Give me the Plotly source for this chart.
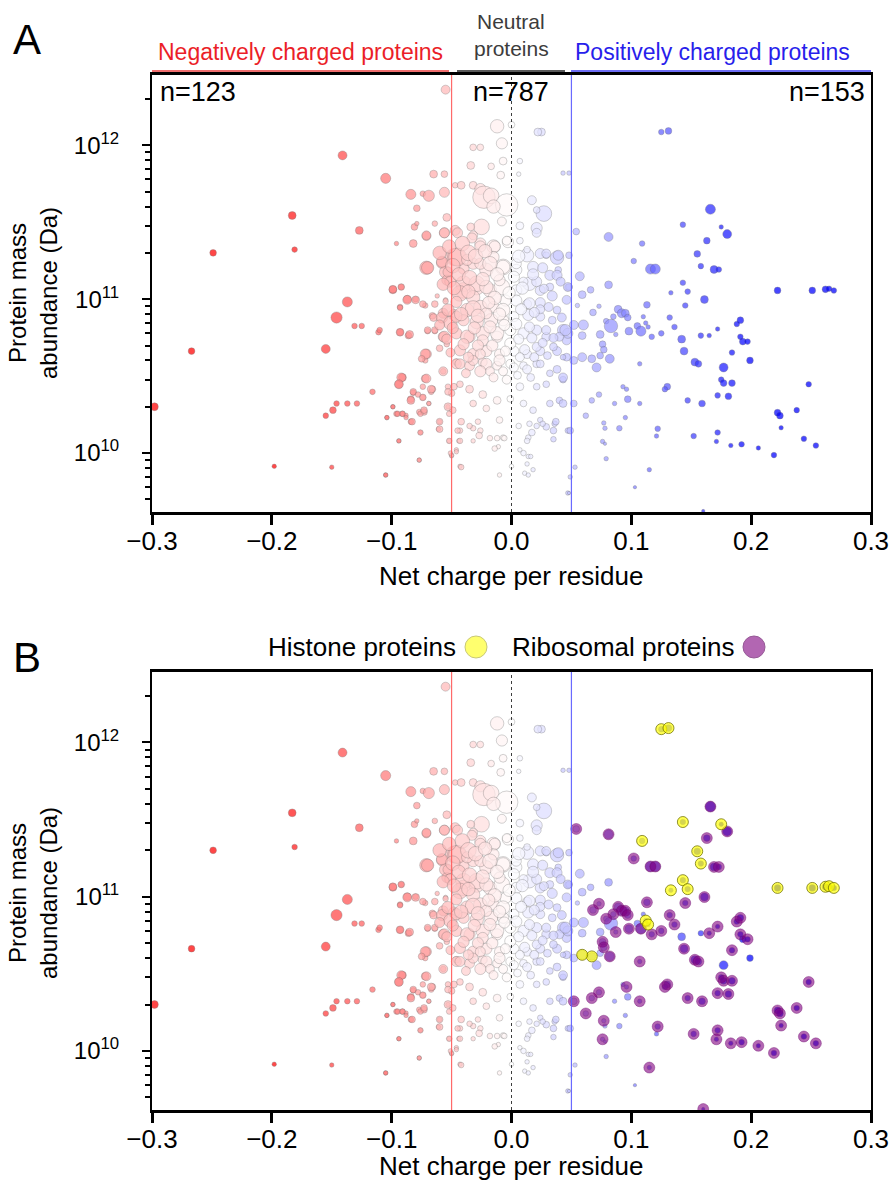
import plotly.graph_objects as go

W, H = 891, 1195

# ---- data: (net charge per residue, protein mass abundance in Da, bubble size) ----
negative_side = [
    (-0.298, 2.0e10, 7), (-0.267, 4.6e10, 6), (-0.249, 2.0e11, 6), (-0.198, 8.2e9, 4),
    (-0.183, 3.5e11, 7), (-0.181, 2.1e11, 5), (-0.155, 4.75e10, 8), (-0.150, 8.1e9, 4),
    (-0.155, 1.75e10, 5), (-0.149, 1.9e10, 6), (-0.146, 2.1e10, 5), (-0.146, 7.6e10, 10),
    (-0.141, 8.6e11, 8), (-0.137, 9.6e10, 9), (-0.137, 2.1e10, 5), (-0.129, 2.1e10, 5),
    (-0.131, 6.7e10, 5), (-0.125, 6.7e10, 5), (-0.127, 2.8e11, 7), (-0.116, 2.5e10, 5),
    (-0.111, 6.1e10, 5), (-0.105, 6.1e11, 9), (-0.105, 7.2e9, 4), (-0.104, 1.7e10, 4),
    (-0.099, 2.0e10, 4), (-0.096, 2.3e11, 4), (-0.099, 1.15e11, 7), (-0.096, 1.8e10, 5),
    (-0.091, 1.8e10, 5), (-0.094, 1.2e10, 4), (-0.094, 2.8e10, 7), (-0.091, 3.1e10, 7),
    (-0.093, 8.9e10, 5), (-0.093, 6.1e10, 6), (-0.092, 1.2e11, 5), (-0.087, 1.0e11, 7),
    (-0.086, 5.8e10, 6), (-0.088, 1.76e10, 4), (-0.084, 4.8e11, 9), (-0.082, 2.3e11, 7),
    (-0.081, 2.95e11, 6), (-0.084, 2.24e10, 6), (-0.084, 1.6e10, 5), (-0.080, 1.0e11, 5),
    (-0.079, 3.9e11, 6), (-0.079, 3.1e11, 4), (-0.082, 2.47e10, 5), (-0.077, 1.85e10, 5),
    (-0.077, 9.0e9, 4), (-0.076, 1.36e10, 4), (-0.074, 4.85e11, 5), (-0.073, 1.85e10, 6),
    (-0.074, 2.3e10, 5), (-0.072, 9.1e10, 5), (-0.072, 3.05e10, 7), (-0.071, 4.4e10, 9),
    (-0.072, 4.0e10, 5), (-0.071, 1.6e11, 12), (-0.071, 2.57e11, 8), (-0.070, 6.2e10, 5),
    (-0.069, 2.1e10, 4), (-0.069, 4.7e11, 10), (-0.067, 2.5e10, 5), (-0.066, 2.6e10, 6),
    (-0.066, 7.8e10, 6), (-0.065, 6.5e11, 7), (-0.064, 3.1e11, 5), (-0.064, 6.2e10, 5),
    (-0.062, 1.05e11, 4), (-0.061, 1.43e10, 4), (-0.060, 1.6e10, 4), (-0.058, 1.72e11, 10),
    (-0.057, 8.1e10, 9), (-0.057, 5.7e10, 9), (-0.056, 6.5e11, 6), (-0.056, 4.95e11, 9),
    (-0.056, 2.7e11, 9), (-0.057, 3.4e10, 5), (-0.055, 2.3e12, 8), (-0.055, 9.9e10, 4),
    (-0.054, 3.4e11, 7), (-0.054, 5.1e10, 5), (-0.053, 2.7e10, 5), (-0.053, 2.0e10, 4),
    (-0.050, 9.6e9, 4), (-0.052, 1.2e10, 4), (-0.055, 1.5e11, 11), (-0.054, 1.33e11, 9),
    (-0.049, 6.5e10, 7), (-0.047, 2.8e11, 9), (-0.047, 5.5e11, 5), (-0.048, 7.9e10, 10),
    (-0.046, 3.9e10, 6), (-0.048, 2.7e10, 6), (-0.050, 2.45e10, 6), (-0.046, 1.05e10, 4),
    (-0.048, 1.88e11, 15),
    (-0.092, 3.1e10, 8), (-0.094, 2.8e10, 8), (-0.071, 3.05e10, 8), (-0.067, 2.6e10, 7),
    (-0.074, 2.7e10, 5), (-0.082, 2.5e10, 6), (-0.078, 2.4e10, 5), (-0.074, 2.3e10, 6),
    (-0.084, 2.2e10, 7), (-0.099, 2.0e10, 4), (-0.095, 1.8e10, 5), (-0.091, 1.8e10, 5),
    (-0.088, 1.7e10, 4), (-0.076, 1.8e10, 5), (-0.073, 1.9e10, 6), (-0.069, 2.1e10, 4),
    (-0.104, 1.7e10, 4), (-0.083, 1.6e10, 6), (-0.060, 1.6e10, 6), (-0.060, 1.43e10, 6),
    (-0.076, 1.36e10, 5), (-0.094, 1.2e10, 4), (-0.077, 9.0e9, 4), (-0.105, 7.2e9, 4),
    (-0.099, 1.16e11, 7), (-0.092, 1.2e11, 6), (-0.087, 9.9e10, 8), (-0.080, 9.9e10, 7),
    (-0.074, 9.3e10, 6), (-0.064, 9.3e10, 6), (-0.093, 8.8e10, 5), (-0.065, 7.6e10, 7),
    (-0.110, 6.3e10, 5), (-0.093, 6.1e10, 7), (-0.085, 5.9e10, 7), (-0.070, 6.3e10, 6),
    (-0.064, 6.3e10, 6), (-0.072, 4.4e10, 9), (-0.075, 4.1e10, 6), (-0.060, 4.8e10, 6),
    (-0.070, 1.6e11, 11), (-0.071, 2.6e11, 8),
]

neutral_upper = [
    (-0.012, 1.33e12, 12), (0.000, 1.36e12, 6), (0.025, 1.22e12, 7), (0.022, 1.22e12, 7),
    (-0.032, 9.7e11, 6), (-0.026, 9.7e11, 6), (-0.008, 1.03e12, 10), (0.007, 7.9e11, 5),
    (-0.007, 7.9e11, 7), (-0.017, 7.3e11, 6), (-0.034, 7.4e11, 7), (-0.042, 5.5e11, 7),
    (-0.032, 5.5e11, 7), (-0.009, 6.4e11, 7), (0.006, 6.5e11, 4), (0.043, 6.6e11, 4),
    (0.048, 6.6e11, 4), (-0.026, 5.2e11, 10), (-0.023, 4.6e11, 20), (-0.017, 4.7e11, 14),
    (-0.004, 4.1e11, 20), (-0.015, 4.0e11, 12), (0.017, 4.4e11, 8), (0.027, 3.6e11, 14),
    (0.021, 2.9e11, 10), (0.021, 3.8e11, 6), (0.007, 3.0e11, 7), (-0.008, 3.2e11, 8),
    (-0.025, 2.95e11, 14), (-0.032, 2.6e11, 8), (-0.034, 2.95e11, 7), (-0.015, 2.2e11, 12),
    (-0.026, 2.3e11, 10), (-0.003, 2.35e11, 10), (0.013, 1.93e11, 12), (0.024, 1.98e11, 9),
    (0.029, 1.93e11, 6), (0.038, 1.86e11, 12), (0.039, 1.55e11, 6), (0.047, 1.19e11, 6),
    (-0.046, 1.88e11, 16), (-0.040, 1.58e11, 10), (-0.007, 1.62e11, 14), (-0.021, 1.55e11, 12),
    (-0.032, 1.7e11, 10), (0.004, 1.55e11, 10), (0.015, 1.26e11, 12), (0.024, 1.14e11, 9),
    (0.032, 1.2e11, 7), (0.046, 9.9e10, 8), (-0.040, 1.14e11, 14), (-0.029, 1.2e11, 14),
    (-0.018, 1.14e11, 12), (-0.008, 1.2e11, 14), (0.004, 1.14e11, 10),
]

neutral_band = [
    (-0.056, 2.7e11, 9), (-0.045, 2.7e11, 9), (-0.033, 2.5e11, 9), (-0.026, 2.2e11, 10),
    (-0.014, 2.2e11, 10), (-0.004, 2.4e11, 8), (0.007, 2.4e11, 6), (0.013, 2.1e11, 6),
    (0.021, 2.7e11, 8), (0.029, 1.98e11, 8), (0.039, 1.93e11, 9), (0.048, 1.93e11, 6),
    (-0.045, 1.88e11, 16), (-0.058, 1.75e11, 10), (-0.053, 1.5e11, 9), (-0.037, 1.8e11, 10),
    (-0.026, 1.7e11, 10), (-0.015, 1.88e11, 10), (-0.007, 1.62e11, 12), (0.004, 1.7e11, 9),
    (0.018, 1.62e11, 10), (0.032, 1.43e11, 9), (0.038, 1.43e11, 9), (-0.051, 1.3e11, 10),
    (-0.040, 1.26e11, 14), (-0.029, 1.26e11, 14), (-0.043, 1.09e11, 14), (-0.032, 1.03e11, 12),
    (-0.021, 1.2e11, 12), (-0.010, 1.33e11, 10), (0.002, 1.4e11, 10), (0.010, 1.3e11, 8),
    (0.021, 1.3e11, 9), (0.027, 1.17e11, 8), (0.048, 1.2e11, 6), (-0.055, 9.7e10, 5),
    (-0.046, 9.6e10, 10), (-0.037, 8.5e10, 12), (-0.026, 8.9e10, 12), (-0.015, 8.9e10, 10),
    (-0.005, 9.8e10, 10), (0.004, 9.8e10, 10), (0.013, 9.3e10, 8), (0.024, 9.5e10, 9),
    (0.038, 8.5e10, 7), (-0.058, 7.6e10, 10), (-0.051, 7.0e10, 12), (-0.040, 7.3e10, 10),
    (-0.029, 7.1e10, 12), (-0.017, 7.3e10, 12), (-0.007, 7.3e10, 10), (0.002, 7.7e10, 9),
    (0.014, 7.9e10, 10), (0.024, 7.7e10, 8), (0.034, 7.3e10, 7), (-0.056, 5.7e10, 10),
    (-0.046, 6.0e10, 10), (-0.035, 5.7e10, 10), (-0.024, 6.0e10, 12), (-0.012, 5.7e10, 10),
    (-0.001, 6.3e10, 10), (0.010, 6.0e10, 10), (0.021, 6.3e10, 9), (0.029, 5.7e10, 8),
    (0.043, 6.3e10, 10), (0.046, 5.4e10, 8), (-0.043, 4.65e10, 10), (-0.032, 4.4e10, 10),
    (-0.021, 4.6e10, 10), (-0.010, 4.4e10, 9), (0.002, 4.6e10, 9), (0.013, 4.4e10, 8),
    (0.024, 4.6e10, 8), (0.038, 4.6e10, 8), (0.046, 4.2e10, 7), (-0.046, 3.8e10, 9),
    (-0.035, 3.7e10, 9), (-0.024, 3.9e10, 8), (-0.012, 3.7e10, 8), (-0.001, 3.8e10, 8),
    (0.010, 3.7e10, 7), (0.021, 3.8e10, 7),
    (0.015, 9.4e10, 10), (0.024, 8.6e10, 8), (-0.032, 8.7e10, 14), (-0.046, 7.7e10, 10),
    (-0.021, 8.1e10, 10), (-0.007, 8.5e10, 12), (0.004, 6.9e10, 10), (0.015, 6.6e10, 9),
    (0.029, 6.3e10, 8), (0.040, 5.7e10, 8), (0.047, 6.0e10, 9), (-0.037, 5.7e10, 12),
    (-0.024, 5.4e10, 10), (-0.012, 6.0e10, 12), (-0.001, 5.15e10, 10), (0.011, 4.7e10, 9),
    (0.021, 4.9e10, 8), (0.035, 4.9e10, 7), (-0.051, 4.5e10, 8), (-0.043, 3.8e10, 9),
    (-0.032, 4.0e10, 9), (-0.021, 3.8e10, 10), (-0.010, 4.0e10, 10), (0.002, 3.6e10, 8),
    (0.013, 3.5e10, 8), (0.024, 3.8e10, 7), (0.038, 3.5e10, 7),
]

neutral_dense = [
    (-0.060, 2.0e11, 12), (-0.052, 2.2e11, 12), (-0.041, 2.3e11, 13), (-0.036, 2.0e11, 14),
    (-0.030, 1.9e11, 13), (-0.022, 2.05e11, 12), (-0.018, 1.7e11, 13), (-0.012, 1.45e11, 12),
    (-0.049, 1.65e11, 13), (-0.044, 1.45e11, 12), (-0.035, 1.38e11, 13), (-0.024, 1.35e11, 12),
    (-0.057, 1.25e11, 11), (-0.048, 1.18e11, 12), (-0.036, 1.12e11, 12), (-0.014, 1.02e11, 12),
    (-0.002, 1.1e11, 11), (0.009, 1.18e11, 11), (0.006, 1.9e11, 11), (0.018, 1.45e11, 10),
    (0.026, 1.6e11, 9), (0.034, 1.05e11, 9), (0.041, 1.3e11, 8), (-0.053, 8.5e10, 11),
    (-0.042, 8.0e10, 12), (-0.028, 7.8e10, 12), (-0.019, 9.5e10, 11), (-0.010, 8.0e10, 11),
    (0.008, 8.6e10, 10), (0.019, 8.2e10, 9), (0.031, 8.9e10, 8), (0.042, 7.6e10, 8),
    (-0.060, 6.8e10, 9), (-0.049, 6.5e10, 10), (-0.031, 6.5e10, 11), (-0.018, 6.6e10, 11),
    (-0.006, 6.8e10, 10), (0.006, 5.5e10, 9), (0.017, 5.6e10, 9), (0.026, 5.2e10, 8),
    (0.035, 5.6e10, 8), (-0.040, 5.1e10, 10), (-0.028, 5.0e10, 10), (-0.016, 5.0e10, 10),
    (-0.005, 4.6e10, 9), (0.007, 4.2e10, 8), (0.019, 4.2e10, 8), (0.030, 4.3e10, 7),
    (-0.054, 5.5e10, 9), (-0.036, 4.2e10, 9), (-0.026, 4.4e10, 9), (-0.038, 3.3e10, 8),
    (-0.018, 3.4e10, 8), (-0.007, 3.4e10, 8), (0.005, 3.2e10, 7), (0.016, 3.1e10, 7),
    (0.032, 3.3e10, 6),
]

neutral_lower = [
    (0.043, 3.0e10, 6), (-0.026, 3.4e10, 10), (-0.015, 3.1e10, 8), (-0.004, 3.0e10, 8),
    (0.007, 2.7e10, 7), (0.021, 2.7e10, 6), (0.029, 2.8e10, 6), (-0.043, 2.8e10, 6),
    (-0.035, 2.6e10, 7), (-0.024, 2.4e10, 7), (-0.012, 2.2e10, 7), (-0.001, 2.25e10, 6),
    (0.010, 2.1e10, 6), (0.018, 1.9e10, 6), (0.032, 2.1e10, 6), (0.040, 2.2e10, 6),
    (-0.032, 2.1e10, 6), (-0.021, 1.95e10, 6), (-0.010, 1.64e10, 6), (-0.049, 1.9e10, 6),
    (-0.043, 1.4e10, 5), (-0.032, 1.45e10, 5), (-0.026, 1.4e10, 5), (-0.012, 1.25e10, 5),
    (-0.007, 1.26e10, 5), (0.006, 1.5e10, 5), (0.014, 1.26e10, 5), (0.015, 1.55e10, 5),
    (0.024, 1.64e10, 5), (0.036, 1.55e10, 5), (0.047, 1.4e10, 5), (-0.032, 1.2e10, 4),
    (-0.044, 1.2e10, 4), (-0.050, 9.7e9, 4), (-0.043, 8.2e9, 4), (-0.011, 1.1e10, 4),
    (0.007, 1.05e10, 4), (0.014, 9.5e9, 4), (0.011, 7.4e9, 4), (0.014, 7.2e9, 4),
    (-0.010, 7.2e9, 4), (0.000, 8.2e9, 4), (0.047, 5.5e9, 4),
    (-0.057, 3.4e10, 8), (-0.053, 2.5e10, 6), (-0.053, 2.0e10, 7), (-0.052, 1.8e10, 5),
    (-0.052, 1.2e10, 5), (-0.051, 1.0e10, 4), (-0.046, 1.02e10, 4), (-0.042, 8.1e9, 5),
    (-0.043, 1.2e10, 5), (-0.045, 1.4e10, 5), (-0.042, 1.6e10, 6), (-0.035, 1.5e10, 5),
    (-0.027, 1.3e10, 6), (-0.028, 1.6e10, 5), (-0.018, 1.25e10, 5), (-0.006, 1.25e10, 5),
    (-0.014, 1.07e10, 5), (0.010, 1.0e10, 5), (0.016, 9.5e9, 4), (0.013, 8.5e9, 4),
    (0.018, 7.8e9, 4), (0.017, 1.36e10, 6), (0.013, 1.2e10, 5), (0.021, 1.5e10, 5),
    (0.029, 1.48e10, 6), (0.026, 1.55e10, 5), (0.035, 1.4e10, 6), (0.037, 1.6e10, 6),
    (0.043, 2.1e10, 7), (0.035, 1.23e10, 5), (0.049, 1.4e10, 6),
]

# positive side: (charge, abundance, size, group)  group: "R" ribosomal, "H" histone, "" other
positive_side = [
    (0.125, 1.22e12, 5, "H"), (0.131, 1.24e12, 6, "H"), (0.166, 3.84e11, 9, "R"),
    (0.143, 3.05e11, 5, "H"), (0.175, 2.95e11, 4, "H"), (0.180, 2.65e11, 8, "R"),
    (0.163, 2.4e11, 6, "R"), (0.054, 2.75e11, 6, "R"), (0.081, 2.54e11, 8, "R"),
    (0.109, 2.3e11, 5, "H"), (0.155, 1.97e11, 6, "H"), (0.102, 1.77e11, 5, "R"),
    (0.158, 1.64e11, 5, "H"), (0.116, 1.57e11, 9, "R"), (0.120, 1.57e11, 9, "R"),
    (0.169, 1.56e11, 7, "R"), (0.173, 1.56e11, 5, "R"), (0.057, 1.41e11, 8, ""),
    (0.047, 1.2e11, 8, ""), (0.081, 1.24e11, 7, ""), (0.066, 1.15e11, 6, ""),
    (0.059, 1.07e11, 7, ""), (0.143, 1.28e11, 5, "H"), (0.147, 1.12e11, 5, "H"),
    (0.133, 1.1e11, 4, "H"), (0.161, 9.95e10, 7, "R"), (0.222, 1.14e11, 6, "H"),
    (0.251, 1.14e11, 6, "H"), (0.262, 1.16e11, 6, "H"), (0.265, 1.17e11, 5, "H"),
    (0.269, 1.14e11, 5, "H"), (0.055, 9.1e10, 4, ""), (0.073, 9.0e10, 4, "R"),
    (0.068, 8.2e10, 6, "R"), (0.113, 9.2e10, 6, "R"), (0.089, 8.6e10, 7, "R"),
    (0.092, 8.1e10, 8, "R"), (0.095, 8.1e10, 7, "R"), (0.097, 7.6e10, 6, "R"),
    (0.085, 7.7e10, 5, "R"), (0.079, 7.2e10, 5, "R"), (0.083, 6.7e10, 12, ""),
    (0.060, 6.8e10, 9, ""), (0.052, 6.8e10, 8, ""), (0.045, 6.3e10, 10, ""),
    (0.059, 5.8e10, 7, ""), (0.074, 5.9e10, 7, ""), (0.098, 6.2e10, 7, "R"),
    (0.105, 6.7e10, 6, ""), (0.108, 6.2e10, 9, "R"), (0.110, 7.7e10, 4, ""),
    (0.112, 7.0e10, 4, "H"), (0.114, 6.6e10, 4, "H"), (0.117, 5.7e10, 5, "R"),
    (0.125, 6.0e10, 5, "R"), (0.132, 7.6e10, 5, "R"), (0.136, 6.6e10, 5, "R"),
    (0.145, 9.1e10, 5, "R"), (0.142, 5.5e10, 7, ""), (0.144, 4.6e10, 7, "R"),
    (0.158, 5.8e10, 5, ""), (0.165, 5.8e10, 4, "R"), (0.172, 6.4e10, 4, "R"),
    (0.188, 6.9e10, 5, "R"), (0.191, 7.3e10, 6, "R"), (0.191, 5.7e10, 5, "R"),
    (0.193, 5.3e10, 6, ""), (0.197, 5.3e10, 5, "R"), (0.184, 4.5e10, 5, "R"),
    (0.199, 4.0e10, 6, ""), (0.153, 3.9e10, 7, "R"), (0.156, 3.8e10, 6, "R"),
    (0.177, 3.6e10, 8, ""), (0.175, 3.0e10, 5, "R"), (0.177, 2.85e10, 6, "R"),
    (0.184, 2.85e10, 6, "R"), (0.172, 2.37e10, 5, "R"), (0.181, 2.34e10, 6, "R"),
    (0.248, 2.8e10, 5, "R"), (0.222, 1.83e10, 6, "R"), (0.224, 1.75e10, 6, "R"),
    (0.238, 1.9e10, 5, "R"), (0.225, 1.46e10, 4, "R"), (0.244, 1.24e10, 5, "R"),
    (0.254, 1.12e10, 5, "R"), (0.219, 9.7e9, 5, "R"), (0.206, 1.08e10, 4, "R"),
    (0.192, 1.14e10, 5, "R"), (0.183, 1.12e10, 4, "R"), (0.172, 1.36e10, 5, "R"),
    (0.171, 1.19e10, 4, "R"), (0.152, 1.29e10, 5, "R"), (0.159, 2.1e10, 6, "R"),
    (0.147, 2.2e10, 5, "R"), (0.130, 2.7e10, 6, "R"), (0.128, 2.6e10, 5, "R"),
    (0.122, 1.44e10, 5, "R"), (0.121, 1.29e10, 4, ""), (0.115, 7.8e9, 4, "R"),
    (0.103, 6.0e9, 3, ""), (0.160, 4.2e9, 3, "R"), (0.107, 3.8e10, 4, "R"),
    (0.107, 2.1e10, 4, "R"), (0.093, 2.7e10, 4, ""), (0.096, 2.6e10, 4, "R"),
    (0.097, 2.24e10, 6, ""), (0.086, 2.1e10, 4, ""), (0.095, 1.7e10, 4, ""),
    (0.090, 1.45e10, 5, ""), (0.077, 1.57e10, 4, "R"), (0.078, 1.45e10, 4, ""),
    (0.076, 1.19e10, 4, "R"), (0.078, 1.15e10, 3, ""), (0.079, 9.2e9, 4, ""),
    (0.073, 2.4e10, 5, "R"), (0.067, 2.2e10, 5, "R"), (0.062, 1.75e10, 5, "R"),
    (0.052, 2.1e10, 6, "R"), (0.053, 8.1e9, 4, ""), (0.049, 7.0e9, 4, ""),
    (0.048, 5.5e9, 3, ""), (0.071, 3.6e10, 8, ""), (0.082, 4.1e10, 8, "R"),
    (0.067, 4.1e10, 7, "H"), (0.074, 4.3e10, 6, ""), (0.059, 4.2e10, 8, "H"),
    (0.052, 4.0e10, 7, ""), (0.076, 5.1e10, 6, "R"), (0.077, 4.7e10, 6, "R"),
    (0.087, 5.9e10, 4, "R"), (0.043, 4.2e10, 5, ""), (0.043, 3.1e10, 8, ""),
]

group_counts = ["n=123", "n=787", "n=153"]
x_ticks = [-0.3, -0.2, -0.1, 0.0, 0.1, 0.2, 0.3]
y_ticks = [1e10, 1e11, 1e12]
y_ticktext = ["10<sup>10</sup>", "10<sup>11</sup>", "10<sup>12</sup>"]
y_minor = [m * 10 ** e for e in (9, 10, 11, 12) for m in range(2, 10)]

# ---- assemble ----
rows3 = negative_side + neutral_upper + neutral_band + neutral_dense + neutral_lower
charge = [r[0] for r in rows3] + [r[0] for r in positive_side]
abund = [r[1] for r in rows3] + [r[1] for r in positive_side]
SIZE_SCALE = 1.12
bsize = [r[2] * SIZE_SCALE for r in rows3] + [r[2] * SIZE_SCALE for r in positive_side]

ribo = [r for r in positive_side if r[3] == "R"]
hist = [r for r in positive_side if r[3] == "H"]

FONT = "Liberation Sans, Arial, Helvetica, sans-serif"


def px(x):
    return x / W


def py(y):
    return 1 - y / H


fig = go.Figure()
cscale = [[0, "rgb(255,0,0)"], [0.5, "rgb(255,255,255)"], [1, "rgb(0,0,255)"]]
for xa, ya in (("x", "y"), ("x2", "y2")):
    fig.add_trace(go.Scatter(
        x=charge, y=abund, mode="markers", xaxis=xa, yaxis=ya, showlegend=False, hoverinfo="skip",
        marker=dict(size=bsize, color=charge, colorscale=cscale, cmin=-0.2, cmax=0.2, showscale=False,
                    opacity=0.72, line=dict(color="rgba(80,80,80,0.6)", width=0.6))))

fig.add_trace(go.Scatter(
    x=[r[0] for r in ribo], y=[r[1] for r in ribo], mode="markers", xaxis="x2", yaxis="y2",
    showlegend=False, hoverinfo="skip",
    marker=dict(size=11, color="rgba(128,0,128,0.6)", line=dict(color="rgba(100,0,100,0.45)", width=0.8))))
fig.add_trace(go.Scatter(
    x=[r[0] for r in hist], y=[r[1] for r in hist], mode="markers", xaxis="x2", yaxis="y2",
    showlegend=False, hoverinfo="skip",
    marker=dict(size=11, color="rgba(255,255,0,0.68)", line=dict(color="rgba(110,110,0,0.75)", width=1))))

xdom = [px(152), px(871)]
ydomA = [py(512), py(75)]
ydomB = [py(1110), py(672)]

xax = dict(domain=xdom, range=[-0.3, 0.3], tickmode="array", tickvals=x_ticks,
           ticktext=[("\u2212" if v < 0 else "") + f"{abs(v):.1f}" for v in x_ticks],
           ticks="outside", ticklen=10, tickwidth=2.5, tickcolor="black", automargin=False,
           ticklabelstandoff=-6,
           showline=True, linewidth=2.5, linecolor="black", mirror=True,
           showgrid=False, zeroline=False, tickfont=dict(size=26, color="black", family=FONT))
yax = dict(type="log", range=[9.617, 12.457], tickmode="array", tickvals=y_ticks, ticktext=y_ticktext,
           ticks="outside", ticklen=8, tickwidth=2, tickcolor="black", ticklabelstandoff=18,
           automargin=False,
           minor=dict(tickmode="array", tickvals=y_minor, ticks="outside", ticklen=5,
                      tickwidth=1.5, tickcolor="black", showgrid=False),
           showline=True, linewidth=2, linecolor="black", mirror=True,
           showgrid=False, zeroline=False, tickfont=dict(size=24, color="black", family=FONT))

fig.update_layout(
    template="none",
    width=W, height=H, autosize=False,
    margin=dict(l=0, r=0, t=0, b=0, pad=0, autoexpand=False),
    paper_bgcolor="white", plot_bgcolor="white",
    font=dict(family=FONT, color="black"),
    xaxis=dict(xax, anchor="y"), yaxis=dict(yax, domain=ydomA, anchor="x"),
    xaxis2=dict(xax, anchor="y2"), yaxis2=dict(yax, domain=ydomB, anchor="x2"),
)

shapes = []
for xr, yr in (("x", "y domain"), ("x2", "y2 domain")):
    shapes.append(dict(type="line", xref=xr, yref=yr, x0=-0.05, x1=-0.05, y0=0, y1=1,
                       line=dict(color="rgba(255,90,90,0.9)", width=1.2), layer="above"))
    shapes.append(dict(type="line", xref=xr, yref=yr, x0=0.05, x1=0.05, y0=0, y1=1,
                       line=dict(color="rgba(90,90,255,0.9)", width=1.2), layer="above"))
    shapes.append(dict(type="line", xref=xr, yref=yr, x0=0, x1=0, y0=0, y1=1,
                       line=dict(color="rgba(40,40,40,0.9)", width=1, dash="dot"), layer="above"))
# header underlines
shapes.append(dict(type="line", xref="paper", yref="paper", x0=px(152), x1=px(449), y0=py(71), y1=py(71),
                   line=dict(color="rgb(240,110,110)", width=2)))
shapes.append(dict(type="line", xref="paper", yref="paper", x0=px(457), x1=px(565), y0=py(71), y1=py(71),
                   line=dict(color="rgb(90,90,90)", width=2)))
shapes.append(dict(type="line", xref="paper", yref="paper", x0=px(571), x1=px(871), y0=py(71), y1=py(71),
                   line=dict(color="rgb(110,110,245)", width=2)))
# legend circles (panel B)
for cx, fill, edge in ((476, "rgb(255,255,110)", "rgb(200,200,120)"), (754, "rgb(178,102,178)", "rgb(150,90,150)")):
    shapes.append(dict(type="circle", xref="paper", yref="paper",
                       x0=px(cx - 11), x1=px(cx + 11), y0=py(647 + 11), y1=py(647 - 11),
                       fillcolor=fill, line=dict(color=edge, width=1)))
fig.update_layout(shapes=shapes)

ann = []


def text(x, y, s, size=25, color="black", xanchor="center", yanchor="middle", angle=0):
    ann.append(dict(x=px(x), y=py(y), xref="paper", yref="paper", text=s, showarrow=False,
                    xanchor=xanchor, yanchor=yanchor, textangle=angle,
                    font=dict(size=size, color=color, family=FONT)))


text(27, 40, "A", size=42)
text(27, 657, "B", size=42)
text(300, 52, "Negatively charged proteins", size=23, color="rgb(235,30,40)")
text(511, 22, "Neutral", size=21, color="rgb(60,60,60)")
text(511, 49, "proteins", size=21, color="rgb(60,60,60)")
text(712, 52, "Positively charged proteins", size=23, color="rgb(40,30,235)")
text(158, 92, group_counts[0], size=27, xanchor="left")
text(511, 92, group_counts[1], size=27)
text(867, 92, group_counts[2], size=27, xanchor="right")
text(33, 293, "Protein mass<br>abundance (Da)", size=24, angle=-90)
text(33, 893, "Protein mass<br>abundance (Da)", size=24, angle=-90)
text(511, 576, "Net charge per residue", size=26)
text(511, 1166, "Net charge per residue", size=26)
text(458, 647, "Histone proteins", size=26, xanchor="right")
text(737, 647, "Ribosomal proteins", size=26, xanchor="right")
fig.update_layout(annotations=ann)

fig.write_html("out.html", config={"displayModeBar": False},
               post_script="document.body.style.margin='0px';document.body.style.overflow='hidden';")
